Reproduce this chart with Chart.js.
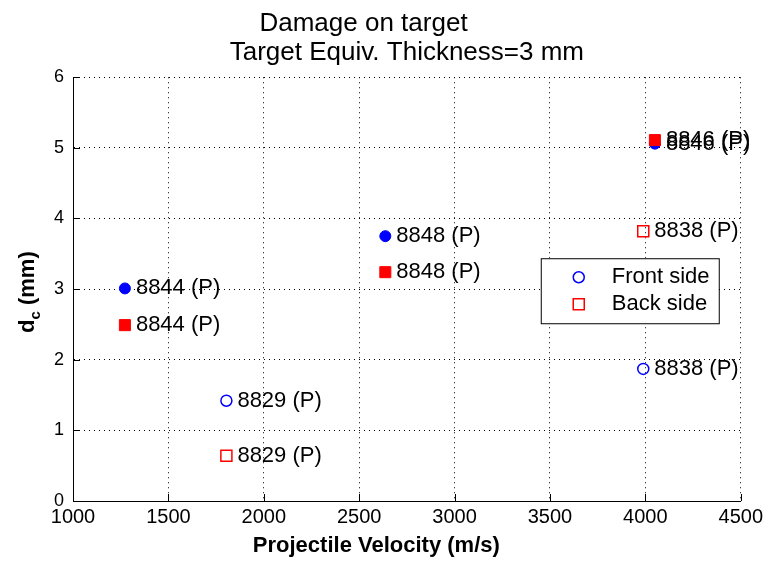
<!DOCTYPE html>
<html lang="en">
<head>
    <meta charset="UTF-8">
    <title>Damage on target</title>
    <script src="https://cdn.jsdelivr.net/npm/chart.js"></script>
    <style>
        html,
        body {
            margin: 0;
            padding: 0;
            background: #ffffff;
        }

        canvas {
            display: block;
        }
    </style>
</head>
<body>
    <canvas id="myChart" width="767" height="565"></canvas>

    <script>
        // values
        const xTicks = [1000, 1500, 2000, 2500, 3000, 3500, 4000, 4500];
        const yTicks = [0, 1, 2, 3, 4, 5, 6];

        const shotLabels = ['8844 (P)', '8829 (P)', '8848 (P)', '8846 (P)', '8838 (P)'];
        const filled = [true, false, true, true, false];

        const frontVel = [1272, 1804, 2637, 4050, 3989];
        const frontDc = [3.01, 1.42, 3.75, 5.06, 1.87];

        const backVel = [1272, 1804, 2637, 4050, 3989];
        const backDc = [2.49, 0.64, 3.24, 5.11, 3.82];

        const FONT = 'Liberation Sans, Arial, Helvetica, sans-serif';

        function toPoints(xs, ys) {
            return xs.map((x, i) => ({ x: x, y: ys[i] }));
        }

        // text next to every marker
        const pointLabels = {
            id: 'pointLabels',
            afterDatasetsDraw(chart) {
                const ctx = chart.ctx;
                ctx.save();
                ctx.font = '22px ' + FONT;
                ctx.fillStyle = '#000';
                ctx.textAlign = 'left';
                ctx.textBaseline = 'middle';
                chart.data.datasets.forEach((ds, i) => {
                    chart.getDatasetMeta(i).data.forEach((el, j) => {
                        ctx.fillText(shotLabels[j], el.x + 11, el.y);
                    });
                });
                ctx.restore();
            }
        };

        // matlab style inner ticks, y label with subscript, boxed legend
        const matlabBits = {
            id: 'matlabBits',
            afterDraw(chart) {
                const ctx = chart.ctx;
                const ca = chart.chartArea;
                const xs = chart.scales.x;
                const ys = chart.scales.y;

                ctx.save();
                ctx.strokeStyle = '#000';
                ctx.lineWidth = 1;
                ctx.beginPath();
                xTicks.forEach(v => {
                    const px = Math.round(xs.getPixelForValue(v)) + 0.5;
                    ctx.moveTo(px, ca.bottom);
                    ctx.lineTo(px, ca.bottom - 7);
                });
                yTicks.forEach(v => {
                    const py = Math.round(ys.getPixelForValue(v)) + 0.5;
                    ctx.moveTo(ca.left, py);
                    ctx.lineTo(ca.left + 7, py);
                });
                ctx.stroke();

                // y axis title: d_c (mm)
                const big = 'bold 22px ' + FONT;
                const small = 'bold 15px ' + FONT;
                ctx.font = big;
                const wD = ctx.measureText('d').width;
                const wRest = ctx.measureText(' (mm)').width;
                ctx.font = small;
                const wC = ctx.measureText('c').width;
                const total = wD + wC + wRest;
                ctx.translate(33.5, (ca.top + ca.bottom) / 2 + 3);
                ctx.rotate(-Math.PI / 2);
                ctx.fillStyle = '#000';
                ctx.textBaseline = 'alphabetic';
                ctx.textAlign = 'left';
                let tx = -total / 2;
                ctx.font = big;
                ctx.fillText('d', tx, 0);
                tx += wD;
                ctx.font = small;
                ctx.fillText('c', tx, 6);
                tx += wC;
                ctx.font = big;
                ctx.fillText(' (mm)', tx, 0);
                ctx.restore();

                // legend
                ctx.save();
                const lx = ca.right - 200;
                const ly = ca.top + 181;
                ctx.fillStyle = '#fff';
                ctx.fillRect(lx, ly, 178, 65);
                ctx.strokeStyle = '#000';
                ctx.lineWidth = 1;
                ctx.strokeRect(lx + 0.5, ly + 0.5, 178, 65);

                ctx.lineWidth = 1.5;
                ctx.strokeStyle = '#0000ff';
                ctx.beginPath();
                ctx.arc(lx + 38, ly + 19, 5.5, 0, Math.PI * 2);
                ctx.stroke();
                ctx.strokeStyle = '#ff0000';
                ctx.strokeRect(lx + 32.5, ly + 40.5, 11, 11);

                ctx.fillStyle = '#000';
                ctx.font = '22px ' + FONT;
                ctx.textAlign = 'left';
                ctx.textBaseline = 'middle';
                ctx.fillText(chart.data.datasets[0].label, lx + 71, ly + 19);
                ctx.fillText(chart.data.datasets[1].label, lx + 71, ly + 46);
                ctx.restore();
            }
        };

        const data = {
            datasets: [{
                label: 'Front side',
                data: toPoints(frontVel, frontDc),
                pointStyle: 'circle',
                pointRadius: 5.5,
                pointBorderWidth: ctx => filled[ctx.dataIndex] ? 1 : 1.5,
                pointBorderColor: '#0000ff',
                pointBackgroundColor: ctx => filled[ctx.dataIndex] ? '#0000ff' : 'rgba(0,0,0,0)',
                showLine: false,
                order: 2
            }, {
                label: 'Back side',
                data: toPoints(backVel, backDc),
                pointStyle: 'rect',
                pointRadius: 7.8,
                pointBorderWidth: ctx => filled[ctx.dataIndex] ? 1 : 1.5,
                pointBorderColor: '#ff0000',
                pointBackgroundColor: ctx => filled[ctx.dataIndex] ? '#ff0000' : 'rgba(0,0,0,0)',
                showLine: false,
                order: 1
            }]
        };

        const config = {
            type: 'scatter',
            data: data,
            plugins: [pointLabels, matlabBits],
            options: {
                responsive: false,
                animation: false,
                events: [],
                layout: {
                    padding: { left: 0, right: 25, top: 0, bottom: 0 }
                },
                plugins: {
                    legend: { display: false },
                    tooltip: { enabled: false },
                    title: {
                        display: true,
                        fullSize: false,
                        text: ['Damage on target            ', 'Target Equiv. Thickness=3 mm'],
                        color: '#000',
                        font: { family: FONT, size: 26, weight: 'normal', lineHeight: 1.12 },
                        padding: { top: 9, bottom: 10 }
                    }
                },
                scales: {
                    x: {
                        type: 'linear',
                        min: 1000,
                        max: 4500,
                        afterFit: s => { s.height = 64; },
                        afterBuildTicks: s => { s.ticks = xTicks.map(v => ({ value: v })); },
                        ticks: {
                            color: '#000',
                            padding: 4,
                            maxRotation: 0,
                            font: { family: FONT, size: 20 },
                            callback: v => String(v)
                        },
                        grid: {
                            color: '#000',
                            lineWidth: 1,
                            drawTicks: false
                        },
                        border: {
                            display: true,
                            color: '#000',
                            width: 1,
                            dash: [1, 4]
                        },
                        title: {
                            display: true,
                            text: 'Projectile Velocity (m/s)          ',
                            color: '#000',
                            font: { family: FONT, size: 22, weight: 'bold' },
                            padding: { top: 0, bottom: 6 }
                        }
                    },
                    y: {
                        type: 'linear',
                        min: 0,
                        max: 6,
                        afterFit: s => { s.width = 73; },
                        afterBuildTicks: s => { s.ticks = yTicks.map(v => ({ value: v })); },
                        ticks: {
                            color: '#000',
                            padding: 9,
                            font: { family: FONT, size: 18 },
                            callback: v => String(v)
                        },
                        grid: {
                            color: '#000',
                            lineWidth: 1,
                            drawTicks: false
                        },
                        border: {
                            display: true,
                            color: '#000',
                            width: 1,
                            dash: [1, 4]
                        }
                    }
                }
            }
        };

        const myChart = new Chart(document.getElementById('myChart'), config);
    </script>
</body>
</html>
